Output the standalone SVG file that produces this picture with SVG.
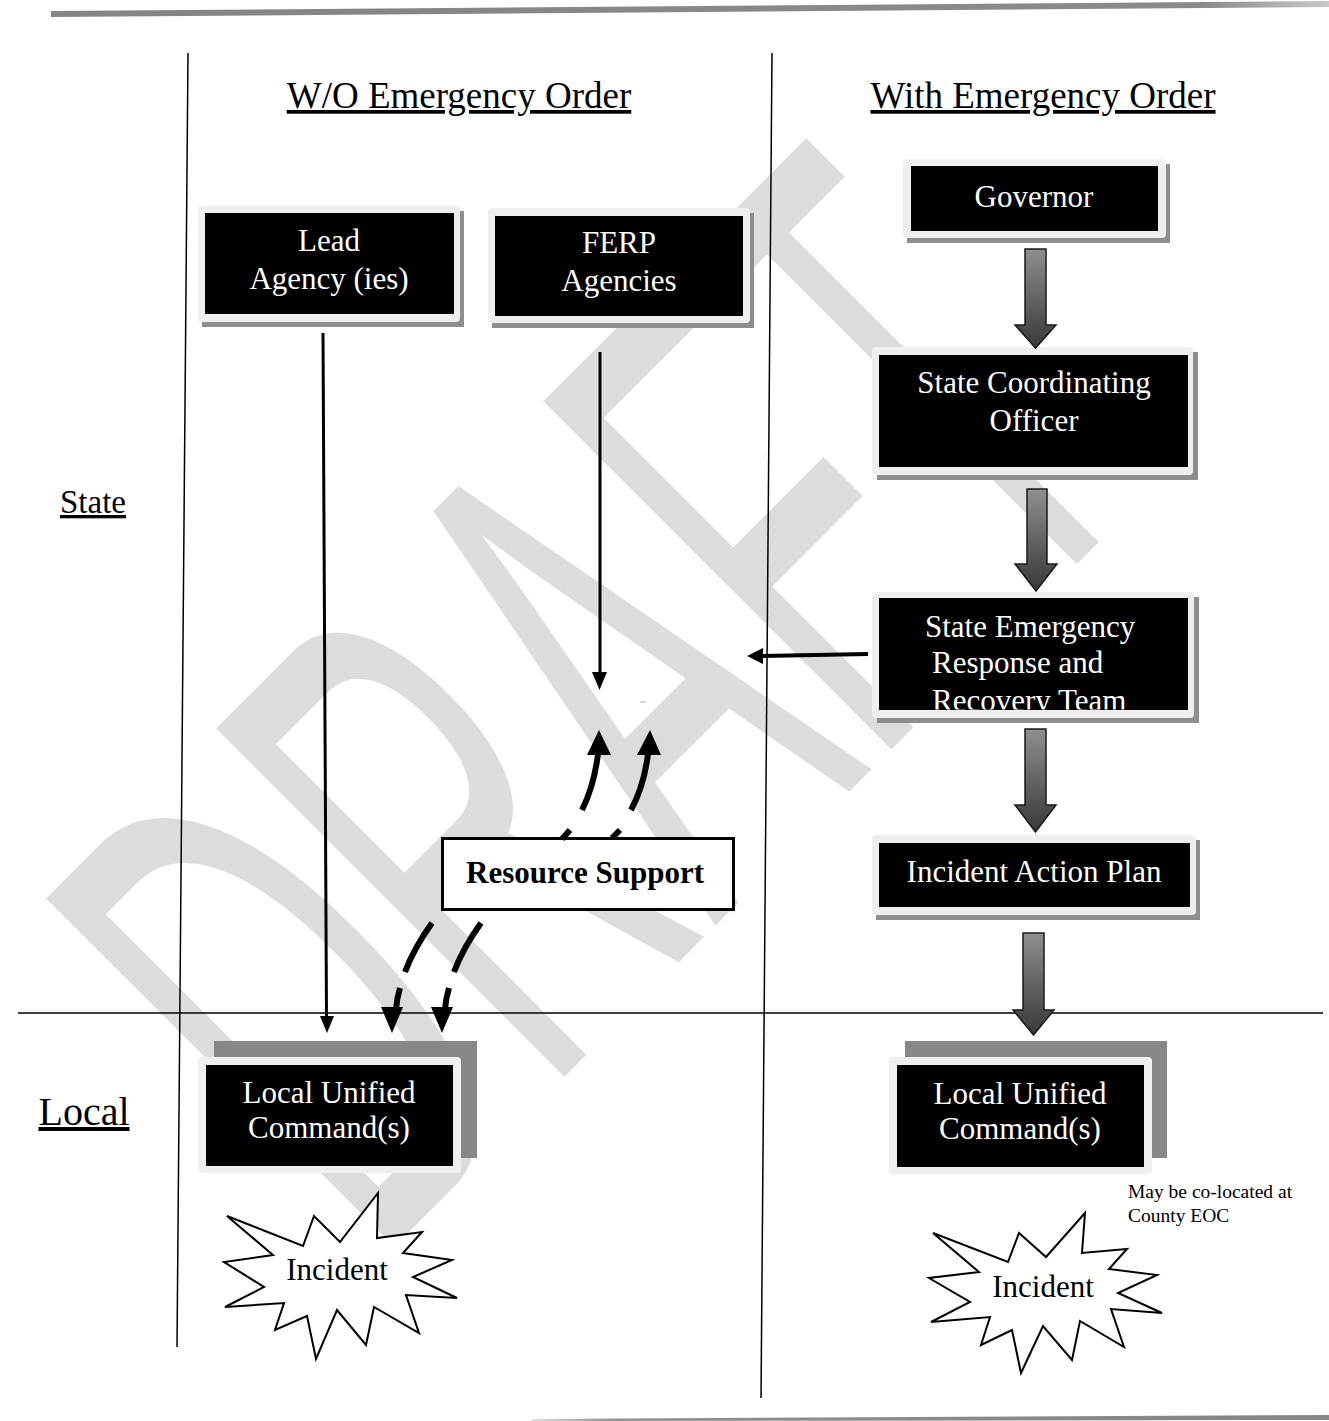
<svg xmlns="http://www.w3.org/2000/svg" width="1329" height="1421" viewBox="0 0 1329 1421">
<defs>
<style>
.t{font-family:"Liberation Serif","Times New Roman",serif;}
.bt{font-family:"Liberation Serif","Times New Roman",serif;font-size:31px;fill:#fff;text-anchor:middle;}
.hd{font-family:"Liberation Serif","Times New Roman",serif;text-anchor:middle;text-decoration:underline;fill:#000;}
.shadow{fill:#8e8e8e;}
.frame{fill:#efefef;}
.blk{fill:#000;}
.back{fill:#878787;}
.ln{stroke:#000;stroke-width:1.5;fill:none;}
.thin{stroke:#000;stroke-width:3;fill:none;}
.dash{stroke:#000;stroke-width:6;fill:none;}
.garrow{fill:url(#gg);stroke:#1a1a1a;stroke-width:1.5;}
.star{fill:#fff;stroke:#000;stroke-width:2;}
.wm{font-family:"Liberation Sans",Arial,sans-serif;fill:#dcdcdc;}
</style>
<linearGradient id="gg" x1="0" y1="0" x2="0" y2="1">
<stop offset="0" stop-color="#8f8f8f"/>
<stop offset="1" stop-color="#383838"/>
</linearGradient>
<linearGradient id="topbar" x1="0" y1="0" x2="1" y2="0">
<stop offset="0" stop-color="#858585"/>
<stop offset="0.9" stop-color="#8a8a8a"/>
<stop offset="1" stop-color="#c8c8c8"/>
</linearGradient>
<linearGradient id="botbar" x1="0" y1="0" x2="1" y2="0">
<stop offset="0" stop-color="#e0e0e0"/>
<stop offset="0.1" stop-color="#8e8e8e"/>
<stop offset="1" stop-color="#858585"/>
</linearGradient>
<clipPath id="serrtclip"><rect x="879" y="598" width="309" height="111.5"/></clipPath>
</defs>

<g id="watermark">
<text class="wm" x="0" y="0" font-size="333" transform="translate(375,1266) rotate(-45) scale(1,2.15)">DRAFT</text>
</g>

<g id="frame-lines">
<polygon points="51,11 1329,1 1329,7 51,17" fill="url(#topbar)"/>
<polygon points="532,1419 1329,1415 1329,1420 532,1421" fill="url(#botbar)"/>
<line class="ln" x1="188" y1="53" x2="177" y2="1347"/>
<line class="ln" x1="772" y1="53" x2="761" y2="1398"/>
<line class="ln" x1="18" y1="1013" x2="1323" y2="1013"/>
</g>

<g id="labels">
<text class="hd" x="459" y="108" font-size="37">W/O Emergency Order</text>
<text class="hd" x="1043" y="108" font-size="37">With Emergency Order</text>
<text class="hd" x="93" y="513" font-size="33">State</text>
<text class="hd" x="84" y="1125" font-size="40">Local</text>
<text class="t" x="1128" y="1198" font-size="19.5">May be co-located at</text>
<text class="t" x="1128" y="1222" font-size="19.5">County EOC</text>
</g>

<g id="node-lead">
<rect class="shadow" x="202" y="211" width="262" height="116"/>
<rect class="frame" x="198" y="206" width="262" height="116" rx="4"/>
<rect class="blk" x="205" y="213" width="249" height="101"/>
<text class="bt" x="329" y="251">Lead</text>
<text class="bt" x="329" y="289">Agency (ies)</text>
</g>

<g id="node-ferp">
<rect class="shadow" x="492" y="213" width="262" height="115"/>
<rect class="frame" x="488" y="208" width="262" height="115" rx="4"/>
<rect class="blk" x="495" y="216" width="248" height="100"/>
<text class="bt" x="619" y="253">FERP</text>
<text class="bt" x="619" y="291">Agencies</text>
</g>

<g id="node-governor">
<rect class="shadow" x="907" y="164" width="263" height="79"/>
<rect class="frame" x="903" y="159" width="263" height="79" rx="4"/>
<rect class="blk" x="911" y="166" width="247" height="65"/>
<text class="bt" x="1034" y="207">Governor</text>
</g>

<g id="node-sco">
<rect class="shadow" x="877" y="352" width="321" height="128"/>
<rect class="frame" x="872" y="347" width="321" height="128" rx="4"/>
<rect class="blk" x="879" y="355" width="309" height="112"/>
<text class="bt" x="1034" y="393">State Coordinating</text>
<text class="bt" x="1034" y="431">Officer</text>
</g>

<g id="node-serrt">
<rect class="shadow" x="877" y="597" width="322" height="126"/>
<rect class="frame" x="872" y="592" width="322" height="126" rx="4"/>
<rect class="blk" x="879" y="598" width="309" height="112"/>
<g clip-path="url(#serrtclip)">
<text class="bt" style="text-anchor:start" x="925" y="637">State Emergency</text>
<text class="bt" style="text-anchor:start" x="932" y="673">Response and</text>
<text class="bt" style="text-anchor:start" x="932" y="711">Recovery Team</text>
</g>
</g>

<g id="node-iap">
<rect class="shadow" x="876" y="840" width="324" height="80"/>
<rect class="frame" x="872" y="835" width="324" height="80" rx="4"/>
<rect class="blk" x="879" y="843" width="311" height="64"/>
<text class="bt" x="1034" y="882">Incident Action Plan</text>
</g>

<g id="node-resource">
<rect x="442.5" y="838.5" width="291" height="71" fill="#fff" stroke="#000" stroke-width="3"/>
<text class="t" x="585" y="883" font-size="31" font-weight="bold" text-anchor="middle">Resource Support</text>
</g>

<g id="node-local-left">
<rect class="back" x="214" y="1041" width="263" height="117"/>
<rect class="frame" x="198" y="1057" width="263" height="116" rx="4"/>
<rect class="blk" x="206" y="1065" width="247" height="101"/>
<text class="bt" x="329" y="1103">Local Unified</text>
<text class="bt" x="329" y="1138">Command(s)</text>
</g>

<g id="node-local-right">
<rect class="back" x="905" y="1041" width="262" height="117"/>
<rect class="frame" x="889" y="1057" width="263" height="117" rx="4"/>
<rect class="blk" x="897" y="1065" width="247" height="102"/>
<text class="bt" x="1020" y="1104">Local Unified</text>
<text class="bt" x="1020" y="1139">Command(s)</text>
</g>

<g id="node-incident-left">
<polygon class="star" points="227,1216 303,1246 314,1216 340,1242 378,1193 377,1238 422,1232 403,1253 452,1260 413,1277 457,1298 406,1295 419,1333 374,1307 366,1345 337,1310 316,1359 307,1316 275,1330 284,1303 225,1307 264,1287 224,1262 273,1255"/>
<text class="t" x="337" y="1280" font-size="31" text-anchor="middle">Incident</text>
</g>

<g id="node-incident-right">
<polygon class="star" points="933,1233 1008,1262 1019,1233 1046,1257 1085,1213 1082,1253 1127,1249 1109,1269 1157,1275 1118,1293 1162,1313 1111,1309 1124,1347 1080,1321 1072,1360 1043,1326 1021,1373 1012,1330 981,1345 990,1317 931,1322 970,1302 929,1278 979,1272"/>
<text class="t" x="1043" y="1297" font-size="31" text-anchor="middle">Incident</text>
</g>

<g id="connectors">
<line class="thin" x1="323" y1="333" x2="326.5" y2="1018"/>
<polygon points="327,1033 320,1016 334,1016"/>
<line class="thin" x1="600" y1="352" x2="600" y2="674"/>
<polygon points="599.5,690 592,672 607,672"/>
<line x1="868" y1="654" x2="760" y2="656" stroke="#000" stroke-width="4"/>
<polygon points="747,656 763,648 763,664"/>
<line x1="640" y1="702" x2="646" y2="702" stroke="#aaa" stroke-width="1"/>

<path class="garrow" d="M1025,249 H1046 V325 H1056 L1035.5,348 L1015,325 H1025 Z"/>
<path class="garrow" d="M1027,489 H1047 V564 H1057 L1036,591 L1015,564 H1027 Z"/>
<path class="garrow" d="M1025,729 H1046 V805 H1056 L1035.5,832 L1015,805 H1025 Z"/>
<path class="garrow" d="M1023,933 H1044 V1010 H1054 L1033.5,1035 L1013,1010 H1023 Z"/>

<path class="dash" d="M562,839 L570,830 M582,810 Q594,786 598,754"/>
<polygon points="599,730 587,755 611,755"/>
<path class="dash" d="M612,838 L620,830 M631,810 Q644,786 648,754"/>
<polygon points="650,730 637,755 661,755"/>

<path class="dash" d="M432,923 Q414,948 405,972 M400,988 Q397,998 396,1009"/>
<polygon points="392,1033 381,1007 403,1007"/>
<path class="dash" d="M481,923 Q463,948 454,972 M449,988 Q446,998 445,1009"/>
<polygon points="442,1033 431,1007 453,1007"/>
</g>
</svg>
